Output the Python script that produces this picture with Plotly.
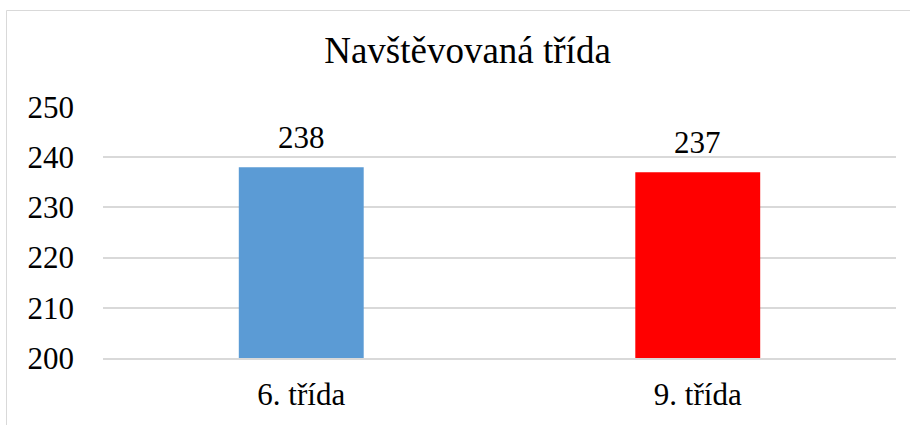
import plotly.graph_objects as go

categories = ["6. třída", "9. třída"]
values = [238, 237]
colors = ["#5B9BD5", "#FF0000"]
title_text = "Navštěvovaná třída"
y_ticks = [200, 210, 220, 230, 240, 250]

FONT = "Liberation Serif"

fig = go.Figure()
fig.add_trace(go.Bar(
    x=categories, y=values, marker=dict(color=colors, line=dict(width=0)),
    width=0.315, hoverinfo="skip",
))

for c, v in zip(categories, values):
    fig.add_annotation(x=c, y=v, text=str(v), showarrow=False,
                       yanchor="bottom", yshift=10,
                       font=dict(family=FONT, size=31, color="#000000"))

fig.update_layout(
    width=910, height=425,
    margin=dict(l=103, r=14, t=107, b=67),
    paper_bgcolor="white", plot_bgcolor="white",
    showlegend=False,
    title=dict(text=title_text, x=467.5/910, xanchor="center", xref="container",
               y=1 - 50/425, yanchor="middle", yref="container",
               font=dict(family=FONT, size=37, color="#000000")),
    font=dict(family=FONT, size=31, color="#000000"),
    bargap=0.685,
)
fig.update_yaxes(range=[200, 250], tickvals=y_ticks, showgrid=True,
                 gridcolor="#D9D9D9", gridwidth=1.5, zeroline=False,
                 showline=False, ticks="", ticklabelstandoff=28,
                 tickfont=dict(family=FONT, size=31, color="#000000"))
fig.update_xaxes(showgrid=False, showline=True, linecolor="#D9D9D9", linewidth=1.5,
                 ticks="", ticklabelstandoff=8,
                 tickfont=dict(family=FONT, size=31, color="#000000"))

fig.add_shape(type="rect", xref="paper", yref="paper",
              x0=(6.5 - 103) / 793, x1=1.2, y0=-0.6, y1=1 + (107 - 10.5) / 251,
              line=dict(color="#D9D9D9", width=1), fillcolor="rgba(0,0,0,0)", layer="below")

fig.write_html("out.html", config={"displayModeBar": False},
               post_script="document.body.style.margin='0';document.body.style.overflow='hidden';")
